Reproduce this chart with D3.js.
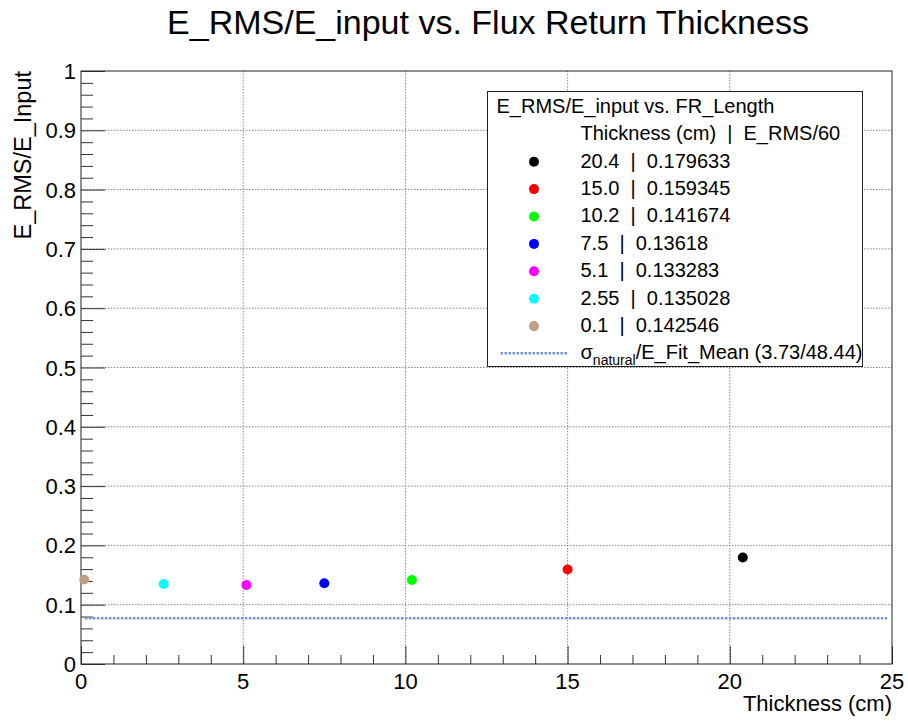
<html>
<head>
    <style>
        body {
            margin: 0;
            font-family: "Liberation Sans", Arial, sans-serif;
            background: white;
        }
    </style>
    <script src="https://cdn.jsdelivr.net/npm/d3@7"></script>
</head>
<body>
    <div class="mainView"></div>
</body>
<script>
    // thickness values (cm) and E_RMS/E_input, in legend order
    let thickness = [20.4, 15.0, 10.2, 7.5, 5.1, 2.55, 0.1];
    let thicknessLabels = ["20.4", "15.0", "10.2", "7.5", "5.1", "2.55", "0.1"];
    let rmsRatio = [0.179633, 0.159345, 0.141674, 0.13618, 0.133283, 0.135028, 0.142546];
    let pointColors = ["#000000", "#ff0000", "#00ff00", "#0000ff", "#ff00ff", "#00ffff", "#bfa084"];
    let sigmaNatural = 3.73;
    let fitMean = 48.44;
    let sigmaLineX = [0.12, 24.85];
    let xTicks = [0, 5, 10, 15, 20, 25];
    let yTicks = [0, 0.1, 0.2, 0.3, 0.4, 0.5, 0.6, 0.7, 0.8, 0.9, 1];

    function getChartConfig() {
        let width = 908;
        let height = 721;
        let margin = { top: 71, bottom: 57, left: 81, right: 16 };
        let bodyWidth = width - margin.left - margin.right;
        let bodyHeight = height - margin.top - margin.bottom;
        let svg = d3.select(".mainView")
            .append("svg")
            .attr("width", width)
            .attr("height", height)
        let container = svg.append("g")
            .attr("transform", "translate(" + [margin.left, margin.top] + ")")
        return { width, height, margin, bodyWidth, bodyHeight, svg, container };
    }

    function getChartScales(config) {
        let { bodyWidth, bodyHeight } = config;
        let xScale = d3.scaleLinear().domain([0, 25]).range([0, bodyWidth]);
        let yScale = d3.scaleLinear().domain([0, 1]).range([bodyHeight, 0]);
        return { xScale, yScale };
    }

    function drawAxes(scales, config) {
        let { xScale, yScale } = scales;
        let { container, bodyWidth, bodyHeight, svg, margin, width } = config;

        // grid
        xTicks.slice(1, -1).forEach(t => {
            container.append("line")
                .attr("x1", xScale(t)).attr("x2", xScale(t))
                .attr("y1", 0).attr("y2", bodyHeight)
                .style("stroke", "#888")
                .style("stroke-dasharray", "1.5,1.5")
        })
        yTicks.slice(1, -1).forEach(t => {
            container.append("line")
                .attr("x1", 0).attr("x2", bodyWidth)
                .attr("y1", yScale(t)).attr("y2", yScale(t))
                .style("stroke", "#888")
                .style("stroke-dasharray", "1.5,1.5")
        })

        // ticks pointing inward, minor every 1 cm / 0.02
        let axisX = d3.axisTop(xScale)
            .tickValues(d3.range(0, 25.5, 1))
            .tickSize(9)
            .tickFormat("")
        let gx = container.append("g")
            .attr("transform", "translate(0," + bodyHeight + ")")
            .call(axisX)
        gx.selectAll(".tick line").attr("y2", (d) => d % 5 === 0 ? -18 : -9)
        gx.select(".domain").remove()

        let axisY = d3.axisRight(yScale)
            .tickValues(d3.range(0, 51).map(i => i / 50))
            .tickSize(12)
            .tickFormat("")
        let gy = container.append("g").call(axisY)
        gy.selectAll(".tick line").attr("x2", (d, i) => i % 5 === 0 ? 24 : 12)
        gy.select(".domain").remove()
        container.selectAll(".tick line").style("stroke", "#333")

        // tick labels
        container.selectAll(".xlab")
            .data(xTicks)
            .enter()
            .append("text")
            .attr("x", d => xScale(d))
            .attr("y", bodyHeight + 25)
            .attr("text-anchor", "middle")
            .style("font-size", "22px")
            .text(d => d)
        container.selectAll(".ylab")
            .data(yTicks)
            .enter()
            .append("text")
            .attr("x", -5)
            .attr("y", d => yScale(d) + 8)
            .attr("text-anchor", "end")
            .style("font-size", "22px")
            .text(d => d)

        // frame
        container.append("rect")
            .attr("width", bodyWidth)
            .attr("height", bodyHeight)
            .style("fill", "none")
            .style("stroke", "#222")

        // titles
        svg.append("text")
            .attr("x", 488)
            .attr("y", 34)
            .attr("text-anchor", "middle")
            .style("font-size", "34px")
            .text("E_RMS/E_input vs. Flux Return Thickness")
        svg.append("text")
            .attr("x", margin.left + bodyWidth)
            .attr("y", 711)
            .attr("text-anchor", "end")
            .style("font-size", "22px")
            .text("Thickness (cm)")
        svg.append("text")
            .attr("transform", "translate(31," + margin.top + ") rotate(-90)")
            .attr("text-anchor", "end")
            .style("font-size", "23.5px")
            .text("E_RMS/E_Input")
    }

    function drawData(scales, config) {
        let { xScale, yScale } = scales;
        let { container } = config;
        let ratio = sigmaNatural / fitMean;
        container.append("line")
            .attr("x1", xScale(sigmaLineX[0]))
            .attr("x2", xScale(sigmaLineX[1]))
            .attr("y1", yScale(ratio))
            .attr("y2", yScale(ratio))
            .style("stroke", "#7393d6")
            .style("stroke-width", 2.5)
            .style("stroke-dasharray", "2.5,1.5")

        container.selectAll("circle")
            .data(thickness)
            .enter()
            .append("circle")
            .attr("cx", d => xScale(d))
            .attr("cy", (d, i) => yScale(rmsRatio[i]))
            .attr("r", 5)
            .attr("fill", (d, i) => pointColors[i])
    }

    function drawLegend(config) {
        let { svg } = config;
        let legend = svg.append("g").attr("transform", "translate(487.5,91.5)");
        legend.append("rect")
            .attr("width", 375)
            .attr("height", 275)
            .style("fill", "white")
            .style("stroke", "#222")
        legend.append("text")
            .attr("x", 9).attr("y", 21)
            .style("font-size", "20px")
            .text("E_RMS/E_input vs. FR_Length")
        legend.append("text")
            .attr("x", 93).attr("y", 48.5)
            .style("font-size", "20px")
            .style("white-space", "pre")
            .text("Thickness (cm)  |  E_RMS/60")
        let rowH = 27.4;
        thickness.forEach((t, i) => {
            let y = 76 + i * rowH;
            legend.append("circle")
                .attr("cx", 46.5).attr("cy", y - 5.8)
                .attr("r", 5)
                .attr("fill", pointColors[i])
            legend.append("text")
                .attr("x", 93).attr("y", y)
                .style("font-size", "20px")
                .style("white-space", "pre")
                .text(thicknessLabels[i] + "  |  " + rmsRatio[i])
        })
        let ys = 76 + 7 * rowH;
        legend.append("line")
            .attr("x1", 13).attr("x2", 80)
            .attr("y1", ys - 6).attr("y2", ys - 6)
            .style("stroke", "#7393d6")
            .style("stroke-width", 2.5)
            .style("stroke-dasharray", "2.5,1.5")
        let t = legend.append("text")
            .attr("x", 93).attr("y", ys)
            .style("font-size", "20px")
        t.append("tspan").text("σ")
        t.append("tspan").attr("dy", 6).style("font-size", "14px").text("natural")
        t.append("tspan").attr("dy", -6)
            .text("/E_Fit_Mean (" + sigmaNatural.toFixed(2) + "/" + fitMean.toFixed(2) + ")")
    }

    function showData() {
        let config = getChartConfig();
        let scales = getChartScales(config);
        drawAxes(scales, config);
        drawData(scales, config);
        drawLegend(config);
    }
    showData();
</script>
</html>
